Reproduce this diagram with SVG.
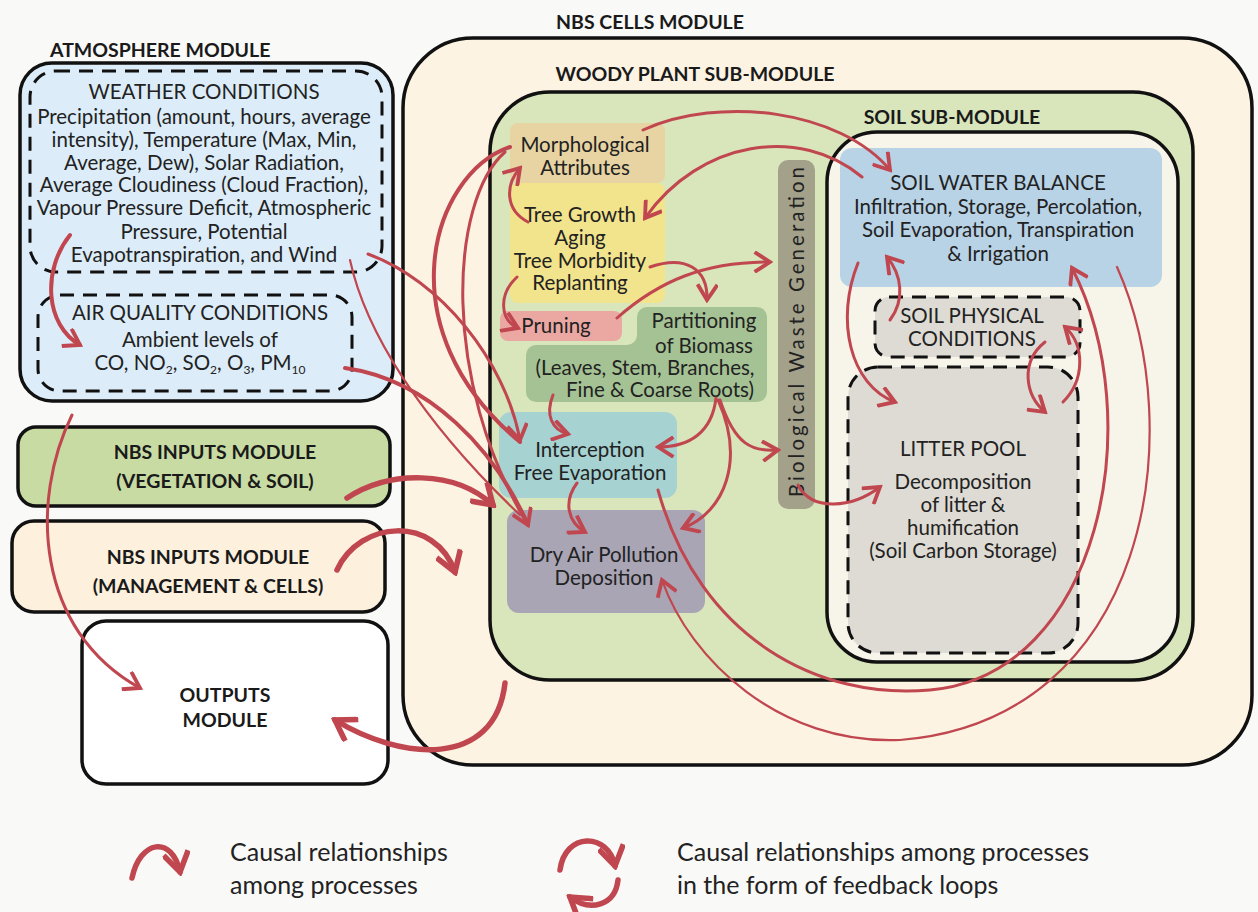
<svg xmlns="http://www.w3.org/2000/svg" width="1258" height="912" viewBox="0 0 1258 912">
<defs>
<style>
.box{stroke:#111;stroke-width:3.5}
.dash{stroke:#111;stroke-width:3;stroke-dasharray:14 9;fill:none}
.lbl{font-family:Lato,"Open Sans",sans-serif;font-weight:700;font-size:19.5px;fill:#1a1a1a}
.txt{font-family:Lato,"Open Sans",sans-serif;font-size:20.5px;fill:#222;text-anchor:middle}
.leg{font-family:Lato,"Open Sans",sans-serif;font-size:25px;fill:#222}
.a{fill:none;stroke:#c0474f;stroke-width:4;stroke-linecap:round}
.t{stroke-width:2.2}
.m{stroke-width:3}
.k{stroke-width:5.5}
</style>
<marker id="h" viewBox="0 0 20 20" refX="17" refY="10" markerWidth="22" markerHeight="22" markerUnits="userSpaceOnUse" orient="auto"><path d="M3,1 L17,10 L3,19" fill="none" stroke="#c0474f" stroke-width="3.5"/></marker>
<marker id="hb" viewBox="0 0 20 20" refX="17" refY="10" markerWidth="28" markerHeight="28" markerUnits="userSpaceOnUse" orient="auto"><path d="M3,1 L17,10 L3,19" fill="none" stroke="#c0474f" stroke-width="4"/></marker>
</defs>
<rect width="1258" height="912" fill="#f9f9f8"/>

<g id="nbs-cells">
<rect class="box" x="403" y="38" width="849" height="727" rx="70" fill="#fdf3e3"/>
<text class="lbl" x="650" y="29" text-anchor="middle">NBS CELLS MODULE</text>
</g>
<g id="woody-plant">
<rect class="box" x="490" y="92" width="703" height="588" rx="60" fill="#d9e5ba"/>
<text class="lbl" x="695" y="81" text-anchor="middle">WOODY PLANT SUB-MODULE</text>
</g>
<g id="soil">
<rect class="box" x="827" y="132" width="351" height="530" rx="50" fill="#f7f5ea"/>
<text class="lbl" x="952" y="124" text-anchor="middle">SOIL SUB-MODULE</text>
</g>
<g id="soil-water-balance">
<rect x="840" y="148" width="322" height="139" rx="12" fill="#b8d3e6"/>
<text class="txt" x="998" y="190">SOIL WATER BALANCE</text>
<text class="txt" x="998" y="214">Infiltration, Storage, Percolation,</text>
<text class="txt" x="998" y="237">Soil Evaporation, Transpiration</text>
<text class="txt" x="998" y="261">&amp; Irrigation</text>
</g>
<g id="soil-physical">
<rect x="875" y="297" width="205" height="60" rx="14" fill="#dedbd4"/>
<rect class="dash" x="875" y="297" width="205" height="60" rx="14"/>
<text class="txt" x="972" y="323">SOIL PHYSICAL</text>
<text class="txt" x="972" y="346">CONDITIONS</text>
</g>
<g id="litter-pool">
<rect x="848" y="367" width="230" height="286" rx="30" fill="#dedbd4"/>
<rect class="dash" x="848" y="367" width="230" height="286" rx="30"/>
<text class="txt" x="963" y="456">LITTER POOL</text>
<text class="txt" x="963" y="489">Decomposition</text>
<text class="txt" x="963" y="512">of litter &amp;</text>
<text class="txt" x="963" y="535">humification</text>
<text class="txt" x="963" y="558">(Soil Carbon Storage)</text>
</g>
<g id="bio-waste">
<rect x="778" y="160" width="37" height="349" rx="10" fill="#a3a18a"/>
<text class="txt" transform="translate(804,332) rotate(-90)" x="0" y="0" textLength="330" lengthAdjust="spacing">Biological Waste Generation</text>
</g>
<g id="morphological">
<rect x="510" y="123" width="155" height="60" rx="8" fill="#e7d4a2"/>
<text class="txt" x="585" y="152">Morphological</text>
<text class="txt" x="585" y="175">Attributes</text>
</g>
<g id="tree-growth">
<rect x="510" y="183" width="155" height="120" rx="8" fill="#f2e48c"/>
<text class="txt" x="580" y="222">Tree Growth</text>
<text class="txt" x="580" y="245">Aging</text>
<text class="txt" x="580" y="268">Tree Morbidity</text>
<text class="txt" x="580" y="290">Replanting</text>
</g>
<g id="pruning">
<rect x="500" y="311" width="122" height="30" rx="8" fill="#eba8a3"/>
<text class="txt" x="556" y="333">Pruning</text>
</g>
<g id="partitioning">
<path d="M647,307 H757 a10,10 0 0 1 10,10 V392 a10,10 0 0 1 -10,10 H536 a10,10 0 0 1 -10,-10 V355 a10,10 0 0 1 10,-10 H627 a10,10 0 0 0 10,-10 V317 a10,10 0 0 1 10,-10 Z" fill="#a5c294"/>
<text class="txt" x="704" y="328">Partitioning</text>
<text class="txt" x="704" y="353">of Biomass</text>
<text class="txt" x="645" y="375">(Leaves, Stem, Branches,</text>
<text class="txt" x="660" y="397">Fine &amp; Coarse Roots)</text>
</g>
<g id="interception">
<rect x="499" y="412" width="178" height="86" rx="12" fill="#a6d2d2"/>
<text class="txt" x="590" y="457">Interception</text>
<text class="txt" x="590" y="480">Free Evaporation</text>
</g>
<g id="dry-air">
<rect x="507" y="510" width="198" height="103" rx="12" fill="#a9a5b5"/>
<text class="txt" x="604" y="562">Dry Air Pollution</text>
<text class="txt" x="604" y="585">Deposition</text>
</g>

<g id="atmosphere">
<rect class="box" x="20" y="63" width="373" height="338" rx="32" fill="#dcedf9"/>
<text class="lbl" x="50" y="57">ATMOSPHERE MODULE</text>
</g>
<g id="weather">
<rect class="dash" x="30" y="71" width="352" height="201" rx="26"/>
<text class="txt" x="204" y="99">WEATHER CONDITIONS</text>
<text class="txt" x="204" y="124">Precipitation (amount, hours, average</text>
<text class="txt" x="204" y="147">intensity), Temperature (Max, Min,</text>
<text class="txt" x="204" y="170">Average, Dew), Solar Radiation,</text>
<text class="txt" x="204" y="192">Average Cloudiness (Cloud Fraction),</text>
<text class="txt" x="204" y="215">Vapour Pressure Deficit, Atmospheric</text>
<text class="txt" x="204" y="239">Pressure, Potential</text>
<text class="txt" x="204" y="262">Evapotranspiration, and Wind</text>
</g>
<g id="air-quality">
<rect class="dash" x="38" y="295" width="314" height="96" rx="22"/>
<text class="txt" x="200" y="320">AIR QUALITY CONDITIONS</text>
<text class="txt" x="200" y="347">Ambient levels of</text>
<text class="txt" x="200" y="370">CO, NO<tspan font-size="12" dy="4">2</tspan><tspan dy="-4">, SO</tspan><tspan font-size="12" dy="4">2</tspan><tspan dy="-4">, O</tspan><tspan font-size="12" dy="4">3</tspan><tspan dy="-4">, PM</tspan><tspan font-size="12" dy="4">10</tspan></text>
</g>
<g id="nbs-inputs-veg">
<rect class="box" x="18" y="427" width="372" height="79" rx="18" fill="#c7dba3"/>
<text class="lbl" x="215" y="459" text-anchor="middle">NBS INPUTS MODULE</text>
<text class="lbl" x="215" y="488" text-anchor="middle">(VEGETATION &amp; SOIL)</text>
</g>
<g id="nbs-inputs-mgmt">
<rect class="box" x="12" y="521" width="373" height="91" rx="22" fill="#fdf0dd"/>
<text class="lbl" x="208" y="564" text-anchor="middle">NBS INPUTS MODULE</text>
<text class="lbl" x="208" y="593" text-anchor="middle">(MANAGEMENT &amp; CELLS)</text>
</g>
<g id="outputs">
<rect class="box" x="82" y="621" width="306" height="163" rx="24" fill="#ffffff"/>
<text class="lbl" x="225" y="702" text-anchor="middle">OUTPUTS</text>
<text class="lbl" x="225" y="727" text-anchor="middle">MODULE</text>
</g>

<g id="connectors">
<path class="a" d="M70,235 C42,270 45,325 80,345" marker-end="url(#h)"/>
<path class="a m" d="M72,415 C30,500 35,630 140,688" marker-end="url(#h)"/>
<path class="a k" d="M505,683 C495,770 400,760 335,720" marker-end="url(#hb)"/>
<path class="a k" d="M347,498 C390,470 455,470 493,505" marker-end="url(#hb)"/>
<path class="a k" d="M337,570 C360,520 435,515 455,572" marker-end="url(#hb)"/>
<path class="a m" d="M368,254 C440,280 505,360 520,440" marker-end="url(#h)"/>
<path class="a t" d="M350,260 C365,330 420,420 520,515"/>
<path class="a" d="M345,368 C430,380 495,450 528,525" marker-end="url(#h)"/>
<path class="a" d="M510,147 C430,175 385,330 520,442"/>
<path class="a m" d="M505,152 C450,200 440,380 528,525"/>
<path class="a m" d="M528,222 C505,210 505,185 520,168" marker-end="url(#h)"/>
<path class="a m" d="M517,277 C498,295 500,320 518,328" marker-end="url(#h)"/>
<path class="a m" d="M650,267 C685,255 708,268 707,300" marker-end="url(#h)"/>
<path class="a m" d="M617,318 C660,280 705,262 770,262" marker-end="url(#h)"/>
<path class="a m" d="M862,177 C800,125 700,140 645,218" marker-end="url(#h)"/>
<path class="a m" d="M643,130 C720,95 840,110 890,170" marker-end="url(#h)"/>
<path class="a m" d="M553,395 C545,415 552,430 568,434" marker-end="url(#h)"/>
<path class="a m" d="M716,398 C712,432 690,447 658,447" marker-end="url(#h)"/>
<path class="a m" d="M718,400 C745,460 725,512 683,528" marker-end="url(#h)"/>
<path class="a m" d="M720,400 C735,445 752,452 778,450" marker-end="url(#h)"/>
<path class="a m" d="M577,483 C563,502 568,522 585,532" marker-end="url(#h)"/>
<path class="a m" d="M798,485 C812,512 852,508 880,487" marker-end="url(#h)"/>
<path class="a m" d="M658,490 C700,640 820,700 930,690 C1100,675 1150,420 1072,268" marker-end="url(#h)"/>
<path class="a t" d="M1117,267 C1190,430 1150,720 900,740 C780,745 690,660 662,580" marker-end="url(#h)"/>
<path class="a m" d="M858,263 C835,320 850,385 895,402" marker-end="url(#h)"/>
<path class="a m" d="M890,320 C905,300 902,275 887,257" marker-end="url(#h)"/>
<path class="a m" d="M1045,342 C1020,362 1025,395 1045,412" marker-end="url(#h)"/>
<path class="a m" d="M1063,402 C1085,380 1085,345 1065,327" marker-end="url(#h)"/>
</g>

<g id="legend">
<path class="a k" d="M132,878 C140,840 172,835 180,872" marker-end="url(#hb)"/>
<path class="a k" d="M560,870 C565,832 608,832 615,866" marker-end="url(#hb)"/>
<path class="a k" d="M618,880 C615,906 590,912 570,897" marker-end="url(#hb)"/>
<text class="leg" x="230" y="861">Causal relationships</text>
<text class="leg" x="230" y="894">among processes</text>
<text class="leg" x="677" y="861">Causal relationships among processes</text>
<text class="leg" x="677" y="894">in the form of feedback loops</text>
</g>
</svg>
